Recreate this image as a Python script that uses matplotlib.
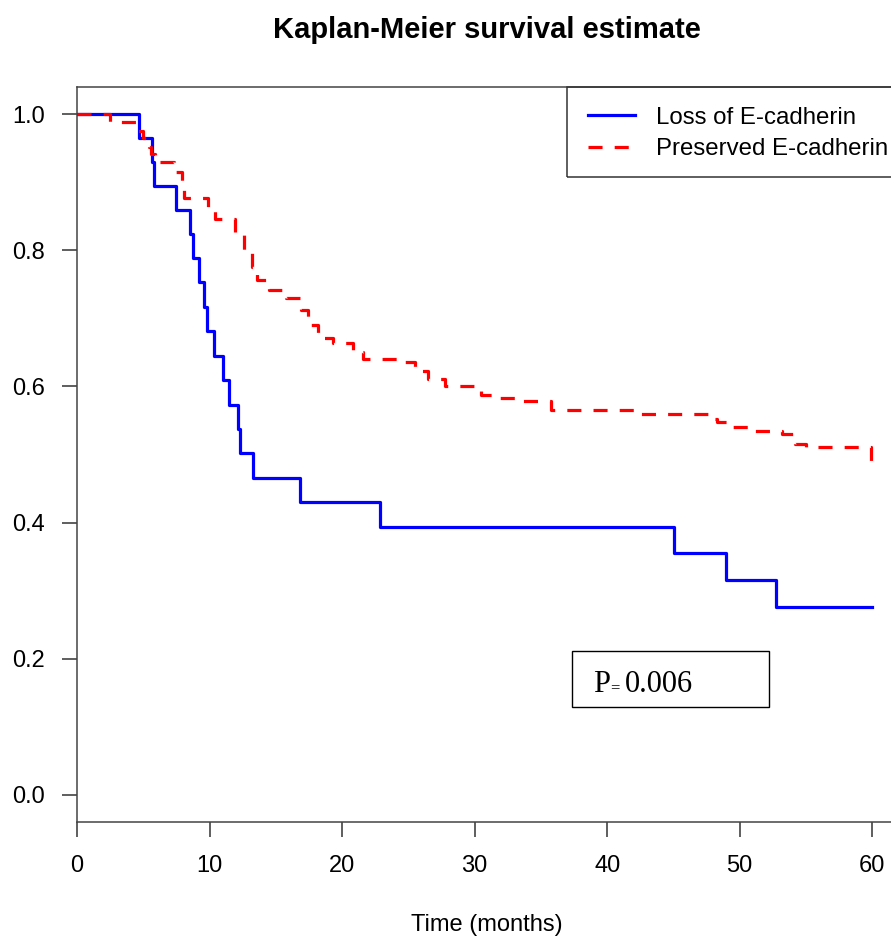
import matplotlib
matplotlib.use('Agg')
import matplotlib.pyplot as plt
from matplotlib.patches import Rectangle
from matplotlib.lines import Line2D

plt.rcParams['font.family'] = ['Liberation Sans', 'DejaVu Sans']

# Curvas de Kaplan-Meier (tempo do evento, sobrevida apos o evento)
perda_tempos = [4.7, 5.64, 5.79, 7.5, 8.5, 8.78, 9.18, 9.6, 9.78, 10.37, 11.04,
                11.5, 12.12, 12.33, 13.28, 16.8, 22.87, 45.07, 49.0, 52.75]
perda_sobrev = [0.965, 0.930, 0.894, 0.859, 0.824, 0.789, 0.753, 0.717, 0.681,
                0.645, 0.609, 0.573, 0.537, 0.502, 0.466, 0.430, 0.394, 0.355,
                0.316, 0.276]

preserv_tempos = [2.5, 4.6, 5.0, 5.4, 5.6, 5.85, 7.3, 7.9, 8.1, 9.9, 10.4, 11.9,
                  12.6, 13.2, 13.6, 14.5, 15.8, 16.9, 17.4, 18.2, 19.3, 20.8,
                  21.6, 24.6, 25.5, 26.5, 27.8, 30.0, 30.5, 31.8, 33.5, 35.8,
                  42.0, 47.6, 48.3, 49.5, 51.0, 53.2, 54.2, 55.0, 59.9]
preserv_sobrev = [0.989, 0.976, 0.965, 0.952, 0.941, 0.930, 0.915, 0.888, 0.877,
                  0.859, 0.846, 0.825, 0.800, 0.776, 0.756, 0.742, 0.730, 0.712,
                  0.690, 0.671, 0.664, 0.651, 0.640, 0.636, 0.622, 0.611, 0.600,
                  0.595, 0.587, 0.583, 0.578, 0.565, 0.559, 0.552, 0.548, 0.540,
                  0.534, 0.530, 0.515, 0.511, 0.482]

tempo_final = 60
x_ticks = [0, 10, 20, 30, 40, 50, 60]
y_ticks = [0.0, 0.2, 0.4, 0.6, 0.8, 1.0]
legenda = ['Loss of E-cadherin', 'Preserved E-cadherin']
p_valor = '0.006'

W, H = 891, 940
fig = plt.figure(figsize=(W / 100, H / 100), dpi=100)

# eixo: esquerda 77px, topo 87px, base 822px, direita fora da imagem
ax = fig.add_axes([77 / W, 1 - 822 / H, (904 - 77) / W, (822 - 87) / H])
ax.set_xlim(0, 62.4)
ax.set_ylim(-0.04, 1.04)


def degraus(tempos, sobrev):
    xs = [0] + tempos + [tempo_final]
    ys = [1.0] + sobrev + [sobrev[-1]]
    return xs, ys


x1, y1 = degraus(perda_tempos, perda_sobrev)
x2, y2 = degraus(preserv_tempos, preserv_sobrev)
ax.step(x1, y1, where='post', color='#0000ff', lw=2.3)
ax.step(x2, y2, where='post', color='#ff0000', lw=2.3, linestyle=(0, (4.4, 3.8)))

ax.set_xticks(x_ticks)
ax.set_yticks(y_ticks)
ax.set_yticklabels(['{:.1f}'.format(v) for v in y_ticks])
ax.tick_params(axis='both', direction='out', length=11, width=1.1,
               labelsize=17, colors='#333333', labelcolor='black')
ax.tick_params(axis='y', pad=12)
ax.tick_params(axis='x', pad=13)
for s in ax.spines.values():
    s.set_color('#444444')
    s.set_linewidth(1.1)

# titulo e rotulo do eixo x
fig.text(487 / W, 1 - 30 / H, 'Kaplan-Meier survival estimate', ha='center',
         va='center', fontsize=21, fontweight='bold')
fig.text(487 / W, 1 - 925 / H, 'Time (months)', ha='center', va='center',
         fontsize=17)

# legenda desenhada a mao (caixa cortada na direita)
fig.patches.append(Rectangle((567 / W, 1 - 177 / H), 400 / W, 90 / H,
                             transform=fig.transFigure, fill=False,
                             edgecolor='#333333', lw=1.1))
fig.lines.append(Line2D([588 / W, 635 / W], [1 - 115 / H, 1 - 115 / H],
                        transform=fig.transFigure, color='#0000ff', lw=2.3))
fig.lines.append(Line2D([588 / W, 635 / W], [1 - 147 / H, 1 - 147 / H],
                        transform=fig.transFigure, color='#ff0000', lw=2.3,
                        linestyle=(0, (4.4, 3.8))))
fig.text(656 / W, 1 - 118 / H, legenda[0], ha='left', va='center', fontsize=17.3)
fig.text(656 / W, 1 - 149 / H, legenda[1], ha='left', va='center', fontsize=17.3)

# caixa do valor de p
fig.patches.append(Rectangle((572 / W, 1 - 707 / H), (769 - 572) / W, (707 - 651) / H,
                             transform=fig.transFigure, fill=False,
                             edgecolor='black', lw=1.0))
fig.text(593 / W, 1 - 692 / H, 'P', ha='left', va='baseline', fontsize=22,
         family='Liberation Serif')
fig.text(610 / W, 1 - 692 / H, '=', ha='left', va='baseline', fontsize=12,
         family='Liberation Serif')
fig.text(625 / W, 1 - 692 / H, p_valor, ha='left', va='baseline', fontsize=22,
         family='Liberation Serif')

fig.savefig('out.png', dpi=100)
